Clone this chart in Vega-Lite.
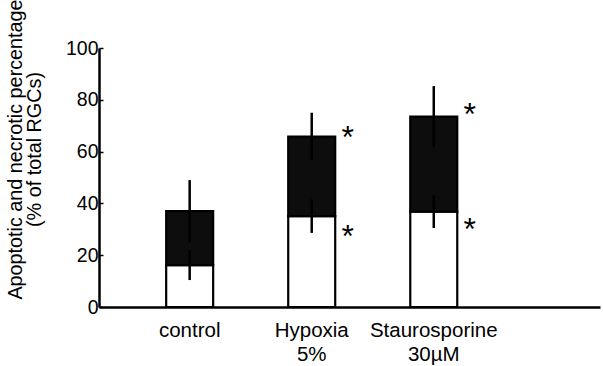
{
  "$schema": "https://vega.github.io/schema/vega-lite/v6.json",
  "width": 501,
  "height": 259,
  "autosize": {"type": "none"},
  "padding": {"left": 99, "top": 48, "right": 3, "bottom": 59},
  "background": "white",
  "config": {"view": {"stroke": null}, "font": "Liberation Sans"},
  "datasets": {
    "bars": [
      {"group": "control", "type": "Apoptotic", "value": 16.2},
      {"group": "control", "type": "Necrotic", "value": 20.8},
      {"group": "Hypoxia 5%", "type": "Apoptotic", "value": 35.1},
      {"group": "Hypoxia 5%", "type": "Necrotic", "value": 30.7},
      {"group": "Staurosporine 30µM", "type": "Apoptotic", "value": 36.8},
      {"group": "Staurosporine 30µM", "type": "Necrotic", "value": 36.7}
    ],
    "errors": [
      {"group": "control", "type": "Apoptotic", "low": 10.4, "high": 22.0},
      {"group": "control", "type": "Total", "low": 25.0, "high": 49.0},
      {"group": "Hypoxia 5%", "type": "Apoptotic", "low": 28.6, "high": 41.6},
      {"group": "Hypoxia 5%", "type": "Total", "low": 56.6, "high": 75.0},
      {"group": "Staurosporine 30µM", "type": "Apoptotic", "low": 30.5, "high": 43.1},
      {"group": "Staurosporine 30µM", "type": "Total", "low": 61.7, "high": 85.3}
    ],
    "stars": [
      {"group": "Hypoxia 5%", "value": 68, "label": "*"},
      {"group": "Hypoxia 5%", "value": 29.7, "label": "*"},
      {"group": "Staurosporine 30µM", "value": 77, "label": "*"},
      {"group": "Staurosporine 30µM", "value": 32.4, "label": "*"}
    ]
  },
  "encoding": {
    "x": {
      "field": "group",
      "type": "nominal",
      "sort": ["control", "Hypoxia 5%", "Staurosporine 30µM"],
      "scale": {"paddingInner": 0.615, "paddingOuter": 0.86, "align": 0.32},
      "axis": {
        "title": null,
        "labelAngle": 0,
        "labelExpr": "split(datum.value, ' ')",
        "labelFontSize": 20.5,
        "labelColor": "black",
        "labelPadding": 13,
        "labelLineHeight": 24,
        "labelBaseline": "top",
        "ticks": false,
        "domainColor": "black",
        "domainWidth": 2.5
      }
    }
  },
  "layer": [
    {
      "data": {"name": "bars"},
      "mark": {"type": "bar", "stroke": "black", "strokeWidth": 2.2},
      "encoding": {
        "y": {
          "field": "value",
          "type": "quantitative",
          "stack": "zero",
          "scale": {"domain": [0, 100], "nice": false},
          "axis": {
            "title": ["Apoptotic and necrotic percentage", "(% of total RGCs)"],
            "titleFontSize": 19.8,
            "titleFontWeight": "normal",
            "titleColor": "black",
            "titleLineHeight": 19,
            "titleAngle": -90,
            "titleAlign": "center",
            "titleBaseline": "alphabetic",
            "titleX": -78,
            "titleY": 101,
            "values": [0, 10, 20, 30, 40, 50, 60, 70, 80, 90, 100],
            "labelExpr": "datum.value % 20 == 0 ? datum.label : ''",
            "labelFontSize": 19.5,
            "labelColor": "black",
            "labelPadding": 5,
            "tickSize": -4,
            "tickColor": "black",
            "tickWidth": 1.5,
            "domainColor": "black",
            "domainWidth": 2.5,
            "grid": false
          }
        },
        "color": {
          "field": "type",
          "type": "nominal",
          "scale": {"domain": ["Apoptotic", "Necrotic"], "range": ["white", "#0d0d0d"]},
          "legend": null
        },
        "order": {"field": "type", "sort": "ascending"}
      }
    },
    {
      "data": {"name": "errors"},
      "mark": {"type": "rule", "color": "black", "strokeWidth": 2.5},
      "encoding": {
        "y": {"field": "low", "type": "quantitative"},
        "y2": {"field": "high"}
      }
    },
    {
      "data": {"name": "stars"},
      "mark": {"type": "text", "fontSize": 32, "dx": 36, "dy": 17, "baseline": "alphabetic", "color": "black"},
      "encoding": {
        "y": {"field": "value", "type": "quantitative"},
        "text": {"field": "label"}
      }
    }
  ]
}
